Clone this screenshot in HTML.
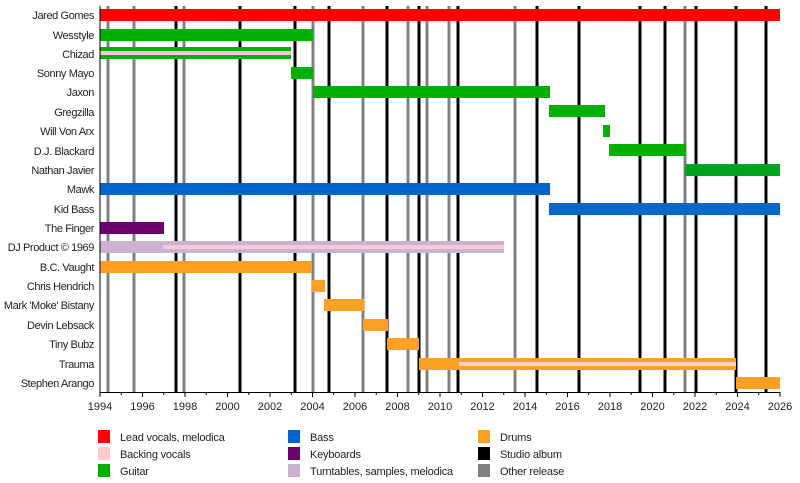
<!DOCTYPE html>
<html><head><meta charset="utf-8"><style>body{margin:0;background:#fff}svg{display:block}text{font-family:"Liberation Sans",sans-serif;font-size:11px;fill:#222}.rl text{letter-spacing:-0.4px}.lg{letter-spacing:-0.2px}</style></head><body>
<svg width="800" height="483" viewBox="0 0 800 483" xmlns="http://www.w3.org/2000/svg">
<g stroke="#808080" stroke-width="3">
<line x1="108" y1="6" x2="108" y2="392"/><line x1="134" y1="6" x2="134" y2="392"/><line x1="184" y1="6" x2="184" y2="392"/><line x1="313" y1="6" x2="313" y2="392"/><line x1="363" y1="6" x2="363" y2="392"/><line x1="408" y1="6" x2="408" y2="392"/><line x1="427" y1="6" x2="427" y2="392"/><line x1="449" y1="6" x2="449" y2="392"/><line x1="515" y1="6" x2="515" y2="392"/><line x1="685" y1="6" x2="685" y2="392"/>
</g>
<g stroke="#000" stroke-width="3">
<line x1="176" y1="6" x2="176" y2="392"/><line x1="240" y1="6" x2="240" y2="392"/><line x1="295" y1="6" x2="295" y2="392"/><line x1="329" y1="6" x2="329" y2="392"/><line x1="387" y1="6" x2="387" y2="392"/><line x1="419" y1="6" x2="419" y2="392"/><line x1="458" y1="6" x2="458" y2="392"/><line x1="537" y1="6" x2="537" y2="392"/><line x1="579" y1="6" x2="579" y2="392"/><line x1="640" y1="6" x2="640" y2="392"/><line x1="665" y1="6" x2="665" y2="392"/><line x1="696" y1="6" x2="696" y2="392"/><line x1="736" y1="6" x2="736" y2="392"/><line x1="766" y1="6" x2="766" y2="392"/>
</g>
<g>
<rect x="100" y="9" width="680" height="12" fill="#ff0000"/>
<rect x="100" y="29" width="213" height="12" fill="#00b000"/>
<rect x="100" y="47" width="191" height="12" fill="#00b000"/><rect x="100" y="51" width="191" height="4" fill="#f4cccc"/>
<rect x="291" y="67" width="22" height="12" fill="#00b000"/>
<rect x="313" y="86" width="237" height="12" fill="#00b000"/>
<rect x="549" y="105" width="56" height="12" fill="#00b000"/>
<rect x="603" y="125" width="7" height="12" fill="#00b000"/>
<rect x="609" y="144" width="77" height="12" fill="#00b000"/>
<rect x="685" y="164" width="95" height="12" fill="#00a020"/>
<rect x="100" y="183" width="450" height="12" fill="#0066cc"/>
<rect x="549" y="203" width="231" height="12" fill="#0066cc"/>
<rect x="100" y="222" width="64" height="12" fill="#6e006e"/>
<rect x="100" y="241" width="404" height="12" fill="#cbb3cf"/><rect x="163" y="245" width="341" height="4" fill="#f6c8d8"/>
<rect x="100" y="261" width="212" height="12" fill="#ffa024"/>
<rect x="312" y="280" width="13" height="12" fill="#ffa024"/>
<rect x="324" y="299" width="40" height="12" fill="#ffa024"/>
<rect x="363" y="319" width="25" height="12" fill="#ffa024"/>
<rect x="387" y="338" width="32" height="12" fill="#ffa024"/>
<rect x="419" y="358" width="317" height="12" fill="#ffa024"/><rect x="459" y="362" width="277" height="4" fill="#fcd0c8"/>
<rect x="736" y="377" width="44" height="12" fill="#ffa024"/>
</g>
<g text-anchor="end" class="rl">
<text x="94" y="19">Jared Gomes</text><text x="94" y="39">Wesstyle</text><text x="94" y="58">Chizad</text><text x="94" y="77">Sonny Mayo</text><text x="94" y="96">Jaxon</text><text x="94" y="116">Gregzilla</text><text x="94" y="135">Will Von Arx</text><text x="94" y="155">D.J. Blackard</text><text x="94" y="174">Nathan Javier</text><text x="94" y="193">Mawk</text><text x="94" y="213">Kid Bass</text><text x="94" y="232">The Finger</text><text x="94" y="251">DJ Product © 1969</text><text x="94" y="271">B.C. Vaught</text><text x="94" y="290">Chris Hendrich</text><text x="94" y="309">Mark 'Moke' Bistany</text><text x="94" y="329">Devin Lebsack</text><text x="94" y="348">Tiny Bubz</text><text x="94" y="368">Trauma</text><text x="94" y="387">Stephen Arango</text>
</g>
<line x1="100" y1="6" x2="100" y2="392" stroke="#000" stroke-width="1"/>
<line x1="100" y1="392.5" x2="780" y2="392.5" stroke="#000" stroke-width="1"/>
<g stroke="#000" stroke-width="1" id="ticks">
</g>
<g text-anchor="middle" id="lbl"></g>
<script>
var t=document.getElementById('ticks'),l=document.getElementById('lbl'),ns='http://www.w3.org/2000/svg';
for(var y=1994;y<=2026;y++){var x=100+(y-1994)*21.25;var ln=document.createElementNS(ns,'line');ln.setAttribute('x1',x);ln.setAttribute('x2',x);ln.setAttribute('y1',392);ln.setAttribute('y2',(y%2==0)?397:395);t.appendChild(ln);
if(y%2==0){var tx=document.createElementNS(ns,'text');tx.setAttribute('x',x);tx.setAttribute('y',410);tx.textContent=y;l.appendChild(tx);}}
</script>
<g class="lg">
<rect x="98" y="430" width="12" height="13" fill="#ff0000"/><text x="120" y="441">Lead vocals, melodica</text>
<rect x="98" y="447" width="12" height="13" fill="#ffc8d0"/><text x="120" y="458">Backing vocals</text>
<rect x="98" y="464" width="12" height="13" fill="#00b000"/><text x="120" y="475">Guitar</text>
<rect x="288" y="430" width="12" height="13" fill="#0066cc"/><text x="310" y="441">Bass</text>
<rect x="288" y="447" width="12" height="13" fill="#6e006e"/><text x="310" y="458">Keyboards</text>
<rect x="288" y="464" width="12" height="13" fill="#cbb3cf"/><text x="310" y="475">Turntables, samples, melodica</text>
<rect x="478" y="430" width="12" height="13" fill="#ffa024"/><text x="500" y="441">Drums</text>
<rect x="478" y="447" width="12" height="13" fill="#000"/><text x="500" y="458">Studio album</text>
<rect x="478" y="464" width="12" height="13" fill="#808080"/><text x="500" y="475">Other release</text>
</g>
</svg>
</body></html>
